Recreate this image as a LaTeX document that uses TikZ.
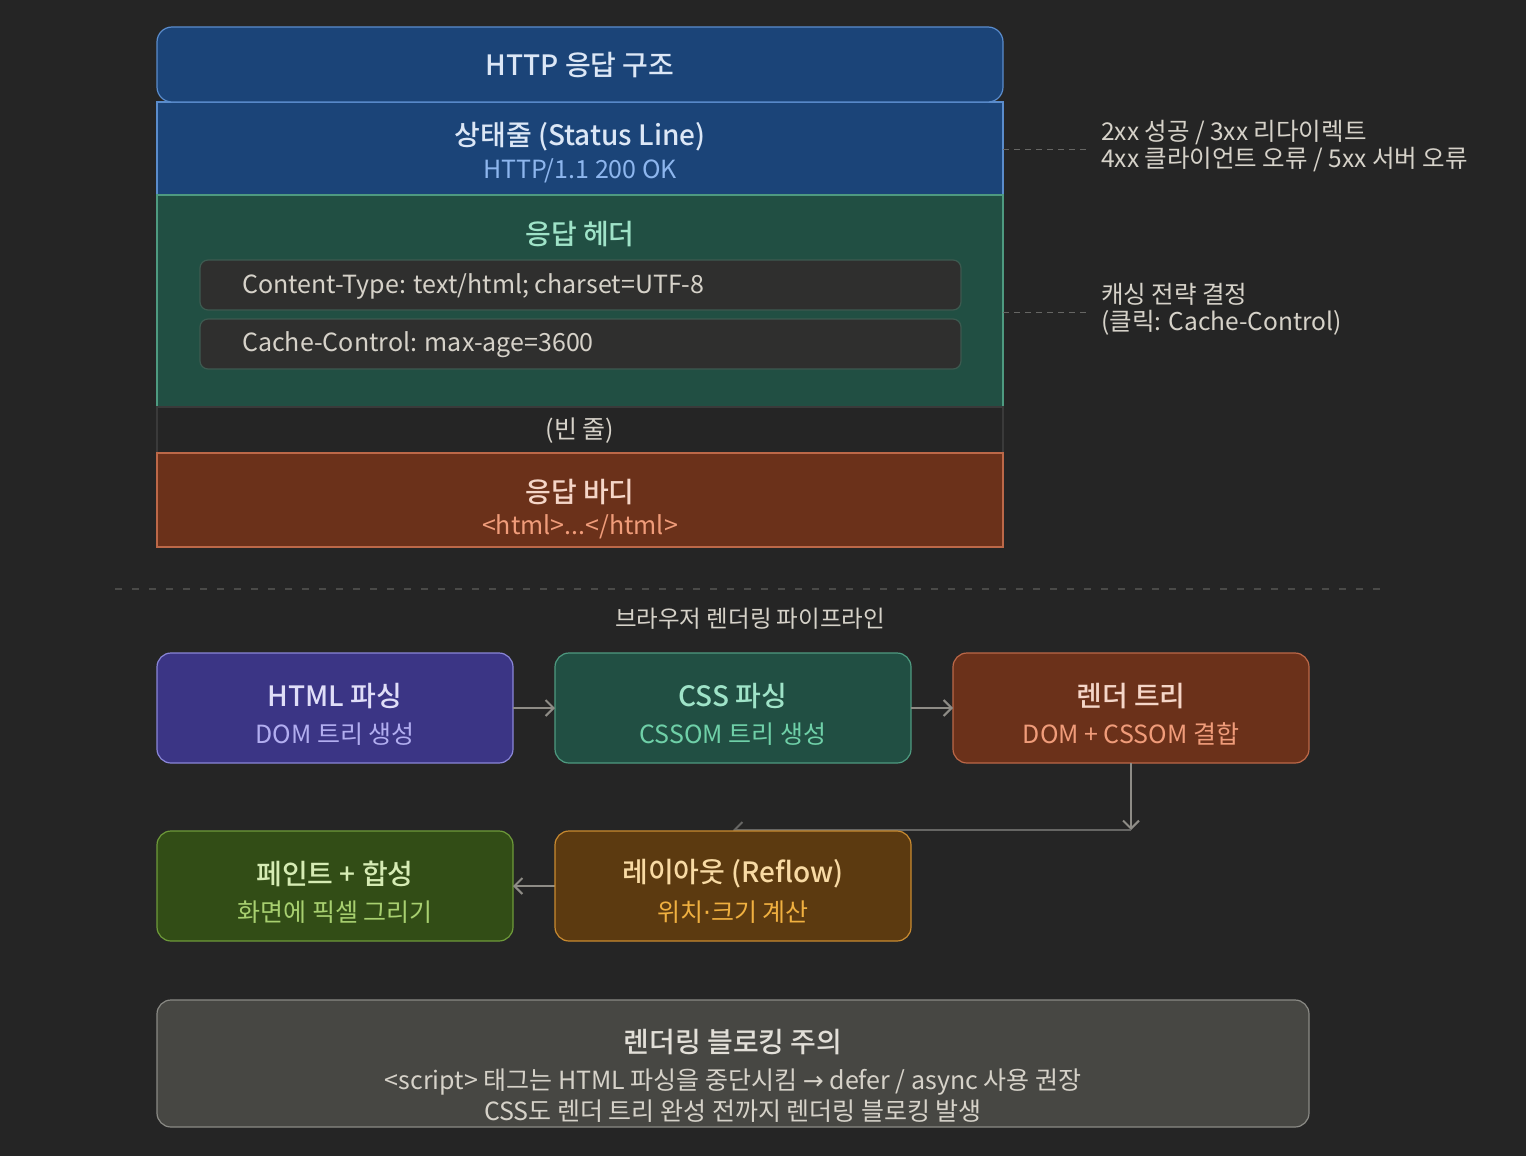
\documentclass[tikz,border=0pt]{standalone}
\usepackage{fontspec}
\setmainfont{Noto Sans CJK KR}[BoldFont={Noto Sans CJK KR Medium}]
\newfontfamily\symf{DejaVu Sans}
\usetikzlibrary{arrows.meta}
\definecolor{bg}{HTML}{252525}
\definecolor{blueF}{HTML}{1B4478}
\definecolor{blueD}{HTML}{5A8CCC}
\definecolor{blueT}{HTML}{DCE7F6}
\definecolor{blueS}{HTML}{8DB6EE}
\definecolor{greenF}{HTML}{214F43}
\definecolor{greenD}{HTML}{4E9A80}
\definecolor{greenT}{HTML}{9FE3C8}
\definecolor{greenS}{HTML}{6FD0A8}
\definecolor{innerF}{HTML}{2F2F2E}
\definecolor{innerD}{HTML}{3D5A50}
\definecolor{txt}{HTML}{D6D2C9}
\definecolor{blankD}{HTML}{3A3A3A}
\definecolor{brownF}{HTML}{6B311A}
\definecolor{brownD}{HTML}{BC6848}
\definecolor{brownT}{HTML}{F5D6C8}
\definecolor{brownS}{HTML}{F09C7A}
\definecolor{purpF}{HTML}{3B3585}
\definecolor{purpD}{HTML}{8A86D8}
\definecolor{purpT}{HTML}{E0DEF8}
\definecolor{purpS}{HTML}{B2AEF0}
\definecolor{olivF}{HTML}{324D16}
\definecolor{olivD}{HTML}{6E9A3A}
\definecolor{olivT}{HTML}{D6ECB4}
\definecolor{olivS}{HTML}{A8D070}
\definecolor{ambF}{HTML}{5C3A10}
\definecolor{ambD}{HTML}{C88A30}
\definecolor{ambT}{HTML}{F8DAA4}
\definecolor{ambS}{HTML}{F0B040}
\definecolor{grayF}{HTML}{474743}
\definecolor{grayD}{HTML}{8A8A85}
\definecolor{warnT}{HTML}{E2DFD8}
\definecolor{arr}{HTML}{8E8C86}
\definecolor{dash}{HTML}{4A4A48}
\definecolor{dashb}{HTML}{666664}
\begin{document}
\begin{tikzpicture}[x=1pt,y=-1pt,
  band/.style={draw=#1, line width=1.2pt},
  stage/.style={rounded corners=14pt, line width=1.2pt},
  ttl/.style={font=\fontsize{28}{31}\selectfont\bfseries},
  sub/.style={font=\fontsize{25}{28}\selectfont},
  ann/.style={font=\fontsize{24.5}{27}\selectfont, text=txt, anchor=west, align=left, inner sep=0pt},
  flow/.style={draw=arr, line width=2pt, -{Straight Barb[length=8pt,width=16pt,line width=2pt]}},
  lead/.style={draw=dashb, line width=1pt, dash pattern=on 6pt off 5pt}]
\fill[bg] (0,0) rectangle (1526,1156);
\useasboundingbox (0,0) rectangle (1526,1156);

% HTTP response structure
\draw[band=blueD, fill=blueF] (157,102) rectangle (1003,195);
\draw[band=greenD, fill=greenF] (157,195) rectangle (1003,407);
\draw[band=blankD, fill=bg] (157,407) rectangle (1003,453);
\draw[band=brownD, fill=brownF] (157,453) rectangle (1003,547);
\draw[band=blueD, fill=blueF, rounded corners=15pt] (157,27) rectangle (1003,102);

\node[ttl, text=blueT] (title) at (580,65) {HTTP 응답 구조};
\node[ttl, text=blueT] (status) at (580,137) {상태줄 (Status Line)};
\node[sub, text=blueS] (statusv) at (580,171) {HTTP/1.1 200 OK};
\node[ttl, text=greenT] (hdr) at (580,234) {응답 헤더};
\draw[fill=innerF, draw=innerD, line width=1.2pt, rounded corners=8pt] (200,260) rectangle (961,310);
\draw[fill=innerF, draw=innerD, line width=1.2pt, rounded corners=8pt] (200,319) rectangle (961,369);
\node[sub, text=txt, anchor=west, inner sep=0pt] (h1) at (242,286) {Content-Type: text/html; charset=UTF-8};
\node[sub, text=txt, anchor=west, inner sep=0pt] (h2) at (242,345) {Cache-Control: max-age=3600};
\node[sub, text=txt] (blank) at (580,431) {(빈 줄)};
\node[ttl, text=brownT] (body) at (580,492) {응답 바디};
\node[sub, text=brownS] (bodyv) at (580,527) {<html>...</html>};

% annotations
\coordinate (a1s) at (1003,149);
\coordinate (a1e) at (1088,149);
\coordinate (a2s) at (1003,312);
\coordinate (a2e) at (1088,312);
\draw[lead] (a1s) -- (a1e);
\draw[lead] (a2s) -- (a2e);
\node[ann] (ann1) at (1101,146) {2xx 성공 / 3xx 리다이렉트\\4xx 클라이언트 오류 / 5xx 서버 오류};
\node[ann] (ann2) at (1101,309) {캐싱 전략 결정\\(클릭: Cache-Control)};

% separator
\coordinate (s1) at (115,589);
\coordinate (s2) at (1380,589);
\draw[draw=dash, line width=1.2pt, dash pattern=on 7pt off 10pt] (s1) -- (s2);
\node[font=\fontsize{23.5}{26}\selectfont, text=txt] (ptitle) at (750,619) {브라우저 렌더링 파이프라인};

% pipeline boxes
\draw[stage, fill=purpF, draw=purpD] (157,653) rectangle (513,763);
\draw[stage, fill=greenF, draw=greenD] (555,653) rectangle (911,763);
\draw[stage, fill=brownF, draw=brownD] (953,653) rectangle (1309,763);
\draw[stage, fill=olivF, draw=olivD] (157,831) rectangle (513,941);

\node (html) at (335,708) [minimum width=356pt, minimum height=110pt, inner sep=0pt, outer sep=0pt] {};
\node (css) at (733,708) [minimum width=356pt, minimum height=110pt, inner sep=0pt, outer sep=0pt] {};
\node (rt) at (1131,708) [minimum width=356pt, minimum height=110pt, inner sep=0pt, outer sep=0pt] {};
\node (paint) at (335,886) [minimum width=356pt, minimum height=110pt, inner sep=0pt, outer sep=0pt] {};
\node (lay) at (733,886) [minimum width=356pt, minimum height=110pt, inner sep=0pt, outer sep=0pt] {};
\coordinate (corner) at (1131,830);
\coordinate (layin) at (733,830);

\draw[flow] (html.east) -- (css.west);
\draw[flow] (css.east) -- (rt.west);
\draw[flow] (rt.south) -- (corner);
\draw[draw=dashb, line width=2pt, -{Straight Barb[length=8pt,width=16pt,line width=2pt]}] (corner) -- (layin);
\draw[flow] (lay.west) -- (paint.east);

\draw[stage, fill=ambF, draw=ambD] (555,831) rectangle (911,941);

\node[ttl, text=purpT] (t1) at (335,696) {HTML 파싱};
\node[sub, text=purpS] (s1t) at (335,734) {DOM 트리 생성};
\node[ttl, text=greenT] (t2) at (733,696) {CSS 파싱};
\node[sub, text=greenS] (s2t) at (733,734) {CSSOM 트리 생성};
\node[ttl, text=brownT] (t3) at (1131,696) {렌더 트리};
\node[sub, text=brownS] (s3t) at (1131,734) {DOM + CSSOM 결합};
\node[ttl, text=olivT] (t4) at (335,874) {페인트 + 합성};
\node[sub, text=olivS] (s4t) at (335,912) {화면에 픽셀 그리기};
\node[ttl, text=ambT] (t5) at (733,874) {레이아웃 (Reflow)};
\node[sub, text=ambS] (s5t) at (733,912) {위치{\symf ·}크기 계산};

% warning
\draw[stage, fill=grayF, draw=grayD] (157,1000) rectangle (1309,1127);
\node[ttl, text=warnT] (w0) at (733,1042) {렌더링 블로킹 주의};
\node[sub, text=txt] (w1) at (733,1082) {<script> 태그는 HTML 파싱을 중단시킴 {\symf →} defer / async 사용 권장};
\node[sub, text=txt] (w2) at (733,1111) {CSS도 렌더 트리 완성 전까지 렌더링 블로킹 발생};
\end{tikzpicture}
\end{document}
